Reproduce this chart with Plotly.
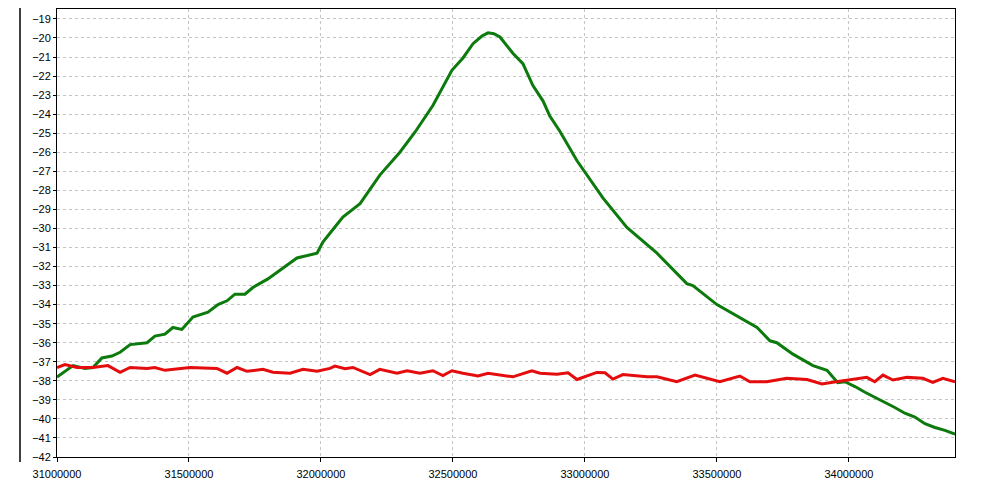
import plotly.graph_objects as go

# frequency (Hz) / level (dB)
green_freq = [31000000, 31061000, 31106000, 31136000, 31170000, 31208000, 31239000, 31277000,
              31341000, 31371000, 31409000, 31439000, 31473000, 31515000, 31572000, 31610000,
              31644000, 31674000, 31712000, 31742000, 31799000, 31845000, 31909000, 31985000,
              32008000, 32034000, 32083000, 32148000, 32223000, 32299000, 32356000, 32424000,
              32496000, 32538000, 32576000, 32610000, 32633000, 32655000, 32678000, 32727000,
              32765000, 32803000, 32841000, 32867000, 32905000, 32970000, 33068000, 33159000,
              33273000, 33386000, 33409000, 33500000, 33587000, 33652000, 33701000, 33727000,
              33788000, 33864000, 33917000, 33958000, 33985000, 34023000, 34061000, 34098000,
              34136000, 34174000, 34212000, 34250000, 34288000, 34326000, 34364000, 34402000]
green_level = [-37.8, -37.2, -37.35, -37.3, -36.8, -36.7, -36.5, -36.1,
               -36.0, -35.65, -35.55, -35.2, -35.3, -34.65, -34.4, -34.0,
               -33.8, -33.45, -33.45, -33.1, -32.65, -32.2, -31.55, -31.3,
               -30.7, -30.25, -29.4, -28.7, -27.2, -26.0, -24.95, -23.55,
               -21.7, -21.05, -20.3, -19.9, -19.73, -19.78, -19.95, -20.8,
               -21.35, -22.5, -23.3, -24.1, -24.9, -26.45, -28.4, -29.95,
               -31.3, -32.9, -33.0, -34.0, -34.7, -35.2, -35.9, -36.0,
               -36.6, -37.2, -37.45, -38.1, -38.05, -38.3, -38.6, -38.85,
               -39.1, -39.4, -39.7, -39.9, -40.25, -40.45, -40.6, -40.8]

red_freq = [31000000, 31030000, 31076000, 31136000, 31193000, 31239000, 31277000, 31341000,
            31371000, 31409000, 31504000, 31606000, 31644000, 31682000, 31720000, 31780000,
            31818000, 31883000, 31932000, 31985000, 32034000, 32053000, 32091000, 32121000,
            32186000, 32223000, 32288000, 32326000, 32375000, 32424000, 32462000, 32496000,
            32538000, 32595000, 32633000, 32727000, 32799000, 32830000, 32894000, 32936000,
            32970000, 33045000, 33076000, 33106000, 33144000, 33235000, 33273000, 33348000,
            33417000, 33511000, 33587000, 33625000, 33689000, 33765000, 33841000, 33898000,
            33939000, 33992000, 34042000, 34068000, 34098000, 34129000, 34167000, 34220000,
            34280000, 34318000, 34356000, 34402000]
red_level = [-37.3, -37.15, -37.3, -37.3, -37.2, -37.55, -37.3, -37.35,
             -37.3, -37.45, -37.3, -37.35, -37.6, -37.3, -37.5, -37.4,
             -37.55, -37.6, -37.4, -37.5, -37.35, -37.23, -37.37, -37.3,
             -37.67, -37.4, -37.6, -37.47, -37.6, -37.47, -37.72, -37.47,
             -37.6, -37.75, -37.6, -37.79, -37.47, -37.6, -37.65, -37.58,
             -37.93, -37.56, -37.58, -37.91, -37.67, -37.79, -37.79, -38.05,
             -37.7, -38.05, -37.75, -38.05, -38.05, -37.87, -37.93, -38.17,
             -38.08, -37.96, -37.87, -37.82, -38.05, -37.7, -37.96, -37.82,
             -37.87, -38.08, -37.87, -38.05]

fig = go.Figure()
fig.add_trace(go.Scatter(x=green_freq, y=green_level, mode='lines',
                         line=dict(color='rgb(12,122,12)', width=3)))
fig.add_trace(go.Scatter(x=red_freq, y=red_level, mode='lines',
                         line=dict(color='rgb(228,12,12)', width=3)))

axis_style = dict(
    showline=True, mirror=True, linecolor='black', linewidth=1,
    showgrid=True, gridcolor='#c4c4c4', gridwidth=1, griddash='3px,3px',
    ticks='outside', tickcolor='black', zeroline=False,
    tickfont=dict(family='Liberation Sans', size=11, color='black'),
)
fig.update_xaxes(range=[31000000, 34402000], tick0=31000000, dtick=500000,
                 tickformat='d', ticklen=4, ticklabelstandoff=3, **axis_style)
fig.update_yaxes(range=[-42, -18.48], tick0=-42, dtick=1, ticklen=3, **axis_style)

# extra frame line left of the y labels
fig.add_shape(type='line', xref='paper', yref='paper',
              x0=-0.0412, x1=-0.0412, y0=-0.011, y1=1.02,
              line=dict(color='black', width=1.5))

# page body keeps an 8px margin, so the margins are shifted by that much
fig.update_layout(
    width=992, height=481,
    margin=dict(l=49, r=45, t=1, b=32),
    showlegend=False,
    paper_bgcolor='white', plot_bgcolor='white',
)
fig.write_html("out.html")
